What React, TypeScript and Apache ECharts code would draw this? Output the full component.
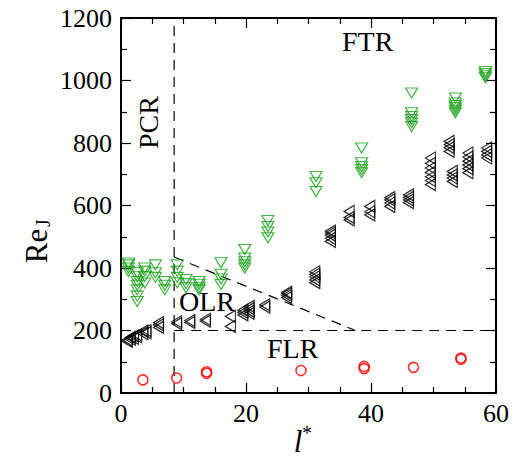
import React, { useEffect, useRef } from "react";
import * as echarts from "echarts";

// Green down-triangles
const greenX = [1.2, 1.2, 1.2, 1.2, 2.6, 2.6, 2.6, 2.6, 2.6, 2.6, 2.6, 3.8, 3.8, 3.8, 3.8, 5.5, 5.5, 5.5, 7.0, 7.0, 7.0, 9.0, 9.0, 9.0, 9.0, 10.4, 10.4, 10.4, 12.5, 12.5, 12.5, 12.5, 16.0, 16.0, 16.0, 16.0, 19.8, 19.8, 19.8, 19.8, 19.8, 23.5, 23.5, 23.5, 23.5, 31.2, 31.2, 31.2, 38.5, 38.5, 38.5, 38.5, 38.5, 46.5, 46.5, 46.5, 46.5, 46.5, 46.5, 53.5, 53.5, 53.5, 53.5, 53.5, 53.5, 58.3, 58.3, 58.3, 58.3];
const greenY = [389, 400, 410, 416, 293, 310, 330, 345, 357, 372, 385, 352, 373, 390, 400, 370, 385, 410, 330, 345, 357, 353, 370, 390, 410, 337, 350, 363, 330, 337, 348, 357, 347, 365, 380, 417, 400, 410, 420, 432, 459, 497, 515, 533, 552, 645, 673, 693, 705, 715, 725, 737, 784, 853, 865, 875, 885, 897, 960, 897, 905, 913, 920, 928, 944, 1009, 1015, 1022, 1029];

// Black left-triangles
const blackX = [1.0, 1.0, 1.5, 1.5, 2.0, 2.0, 2.5, 2.5, 3.5, 3.5, 4.0, 4.0, 6.0, 6.0, 6.0, 8.9, 8.9, 11.0, 11.0, 13.5, 13.5, 17.5, 17.5, 19.5, 19.5, 19.5, 20.5, 20.5, 20.5, 20.5, 23.0, 23.0, 26.5, 26.5, 26.5, 26.5, 31.0, 31.0, 31.0, 31.0, 31.0, 33.5, 33.5, 33.5, 33.5, 33.5, 36.5, 36.5, 36.5, 39.8, 39.8, 39.8, 43.0, 43.0, 43.0, 43.0, 46.0, 46.0, 46.0, 46.0, 49.5, 49.5, 49.5, 49.5, 49.5, 49.5, 49.5, 52.5, 52.5, 52.5, 52.5, 53.0, 53.0, 53.0, 53.0, 55.5, 55.5, 55.5, 55.5, 55.5, 55.5, 58.5, 58.5, 58.5, 58.5];
const blackY = [165, 170, 172, 178, 175, 182, 180, 186, 190, 198, 193, 200, 210, 218, 225, 222, 228, 226, 232, 230, 236, 213, 245, 250, 258, 265, 255, 262, 270, 277, 275, 282, 305, 312, 318, 322, 353, 362, 372, 380, 388, 485, 495, 505, 512, 518, 554, 562, 581, 570, 580, 597, 597, 608, 618, 625, 609, 618, 626, 634, 667, 680, 692, 706, 720, 735, 752, 773, 785, 795, 805, 677, 688, 698, 709, 705, 718, 730, 742, 755, 768, 752, 762, 773, 784];

// Red circles
const redX = [3.5, 8.9, 13.7, 13.7, 28.8, 38.9, 38.9, 46.8, 54.4, 54.4];
const redY = [42, 48, 63, 68, 72, 78, 85, 82, 108, 112];

// Regime boundaries
const vBoundX = [8.5, 8.5];
const vBoundY = [0, 1200];
const hBoundX = [8.5, 60];
const hBoundY = [200, 200];
const dBoundX = [8.5, 37.5];
const dBoundY = [435, 200];

const xTickValues = [0, 20, 40, 60];
const yTickValues = [0, 200, 400, 600, 800, 1000, 1200];

const zip = (xs: number[], ys: number[]) => xs.map((x, i) => [x, ys[i]]);

const FONT = "Liberation Serif";

export default function App() {
  const ref = useRef<HTMLDivElement>(null);
  useEffect(() => {
    if (!ref.current) return;
    const chart = echarts.init(ref.current, undefined, { renderer: "svg" });
    const axisCommon = {
      axisLine: { show: true, onZero: false, lineStyle: { color: "#000", width: 2 } },
      axisTick: { show: true, inside: true, length: 10, lineStyle: { color: "#000", width: 1.2 } },
      minorTick: { show: true, length: 6, lineStyle: { color: "#000", width: 1.2 } },
      splitLine: { show: false },
    };
    const dashed = { color: "#000", width: 1.2, type: [10, 7] as number[] };
    const plain = (v: number) => String(v);
    chart.setOption({
      animation: false,
      backgroundColor: "#fff",
      grid: { left: 121, right: 15, top: 18, bottom: 70, containLabel: false },
      xAxis: [
        {
          type: "value",
          min: xTickValues[0],
          max: xTickValues[xTickValues.length - 1],
          interval: 20,
          ...axisCommon,
          minorTick: { ...axisCommon.minorTick, splitNumber: 4 },
          axisLabel: { color: "#000", fontFamily: FONT, fontSize: 26, margin: 7, formatter: plain },
        },
        {
          type: "value",
          position: "top",
          min: 0,
          max: 60,
          interval: 20,
          ...axisCommon,
          minorTick: { ...axisCommon.minorTick, splitNumber: 4 },
          axisLabel: { show: false },
        },
      ],
      yAxis: [
        {
          type: "value",
          min: yTickValues[0],
          max: yTickValues[yTickValues.length - 1],
          interval: 200,
          ...axisCommon,
          minorTick: { ...axisCommon.minorTick, splitNumber: 2 },
          axisLabel: { color: "#000", fontFamily: FONT, fontSize: 26, margin: 9, formatter: plain },
        },
        {
          type: "value",
          position: "right",
          min: 0,
          max: 1200,
          interval: 200,
          ...axisCommon,
          minorTick: { ...axisCommon.minorTick, splitNumber: 2 },
          axisLabel: { show: false },
        },
      ],
      graphic: [
        { type: "text", left: 342, top: 27, style: { text: "FTR", fontFamily: FONT, fontSize: 28, fill: "#000" } },
        { type: "text", x: 134, y: 149, rotation: Math.PI / 2, style: { text: "PCR", fontFamily: FONT, fontSize: 28, fill: "#000" } },
        { type: "text", left: 179, top: 287, style: { text: "OLR", fontFamily: FONT, fontSize: 28, fill: "#000" } },
        { type: "text", left: 267, top: 334, style: { text: "FLR", fontFamily: FONT, fontSize: 28, fill: "#000" } },
        {
          type: "text",
          x: 36,
          y: 246,
          rotation: Math.PI / 2,
          style: { text: "Re", fontFamily: FONT, fontSize: 31, fill: "#000", align: "center", verticalAlign: "middle" },
        },
        {
          type: "text",
          x: 43,
          y: 223,
          rotation: Math.PI / 2,
          style: { text: "J", fontFamily: FONT, fontSize: 20, fill: "#000", align: "center", verticalAlign: "middle" },
        },
        {
          type: "text",
          x: 298,
          y: 441,
          style: { text: "l", fontFamily: FONT, fontStyle: "italic", fontSize: 31, fill: "#000", align: "center", verticalAlign: "middle" },
        },
        {
          type: "text",
          x: 307,
          y: 433,
          style: { text: "*", fontFamily: FONT, fontSize: 20, fill: "#000", align: "center", verticalAlign: "middle" },
        },
      ],
      series: [
        { type: "line", data: zip(vBoundX, vBoundY), symbol: "none", lineStyle: dashed, z: 1 },
        { type: "line", data: zip(hBoundX, hBoundY), symbol: "none", lineStyle: dashed, z: 1 },
        { type: "line", data: zip(dBoundX, dBoundY), symbol: "none", lineStyle: dashed, z: 1 },
        {
          type: "scatter",
          data: zip(greenX, greenY),
          symbol: "triangle",
          symbolRotate: 180,
          symbolSize: [12, 10],
          itemStyle: { color: "rgba(0,0,0,0)", borderColor: "#18a018", borderWidth: 1.2 },
          z: 3,
        },
        {
          type: "scatter",
          data: zip(blackX, blackY),
          symbol: "triangle",
          symbolRotate: 90,
          symbolSize: [12, 10],
          itemStyle: { color: "rgba(0,0,0,0)", borderColor: "#000", borderWidth: 1.2 },
          z: 3,
        },
        {
          type: "scatter",
          data: zip(redX, redY),
          symbol: "circle",
          symbolSize: 10,
          itemStyle: { color: "rgba(0,0,0,0)", borderColor: "#ff0000", borderWidth: 1.6 },
          z: 3,
        },
      ],
    });
    return () => chart.dispose();
  }, []);
  return <div ref={ref} style={{ position: "fixed", left: 0, top: 0, width: 512, height: 463 }} />;
}
